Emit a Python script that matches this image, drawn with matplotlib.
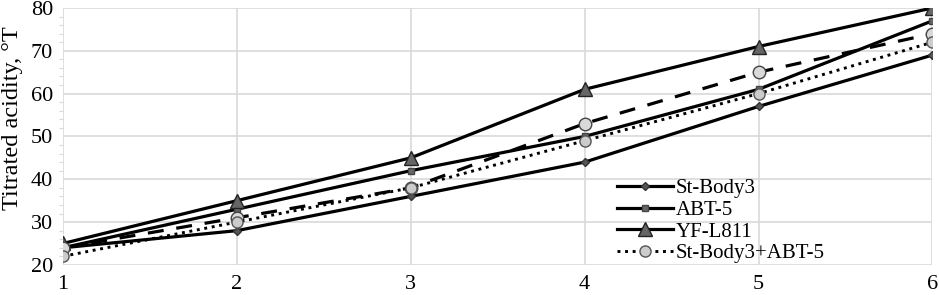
import matplotlib.pyplot as plt
from matplotlib.ticker import MultipleLocator

plt.rcParams['font.family'] = ['Liberation Serif', 'DejaVu Serif']

days = [1, 2, 3, 4, 5, 6]
st_body3 = [24, 28, 36, 44, 57, 69]
abt5 = [24, 33, 42, 50, 61, 77]
yf_l811 = [25, 35, 45, 61, 71, 80]
mix = [22, 30, 38, 49, 60, 72]
dashed = [24, 31, 38, 53, 65, 74]

fig = plt.figure(figsize=(9.39, 2.95), dpi=100)
ax = fig.add_axes([0.067, 0.102, 0.926, 0.871])

ax.plot(days, st_body3, color='black', lw=2.3, marker='D', ms=4,
        mfc='#555555', mec='#333333', label='St-Body3')
ax.plot(days, abt5, color='black', lw=2.3, marker='s', ms=5,
        mfc='#666666', mec='#444444', label='ABT-5')
ax.plot(days, yf_l811, color='black', lw=2.3, marker='^', ms=10,
        mfc='#666666', mec='#222222', label='YF-L811')
ax.plot(days, dashed, color='black', lw=2.3, ls=(0, (5, 4)), marker='o', ms=9,
        mfc='#d9d9d9', mec='#444444', label='_nolegend_')
ax.plot(days, mix, color='black', lw=2.1, ls=(0, (1, 1.6)), marker='o', ms=8,
        mfc='#cccccc', mec='#555555', label='St-Body3+ABT-5')

ax.set_xlim(1, 6)
ax.set_ylim(20, 80)
ax.xaxis.set_major_locator(MultipleLocator(1))
ax.yaxis.set_major_locator(MultipleLocator(10))
ax.yaxis.set_minor_locator(MultipleLocator(2))
ax.grid(True, which='major', color='#d9d9d9', lw=1.2)
ax.set_axisbelow(True)
for s in ax.spines.values():
    s.set_visible(False)
ax.tick_params(axis='both', which='major', length=0, labelsize=16, pad=7)
ax.tick_params(axis='y', which='minor', length=3, color='#d9d9d9', width=0.8)
ax.set_ylabel('Titrated acidity, °T', fontsize=17.5)
ax.yaxis.set_label_coords(-0.046, 0.572)

ax.legend(loc='lower left', bbox_to_anchor=(0.62, -0.05), frameon=False, fontsize=15,
          handlelength=2.7, handletextpad=0.15, labelspacing=0.1, borderpad=0.2)

fig.savefig('out.png', dpi=100)
